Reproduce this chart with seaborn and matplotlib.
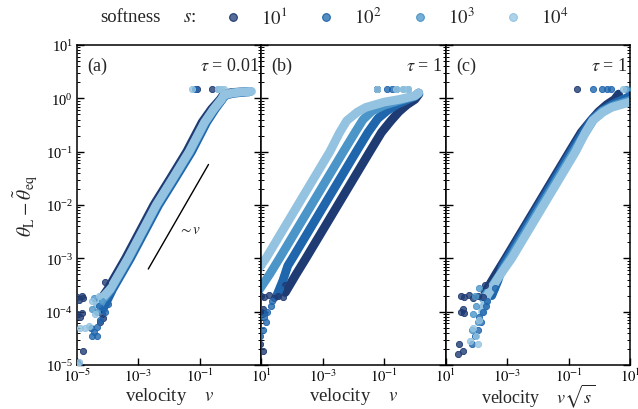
import numpy as np
import pandas as pd
import matplotlib
matplotlib.use("Agg")
import matplotlib.pyplot as plt
import seaborn as sns
from matplotlib.ticker import FixedLocator, NullLocator, LogLocator, NullFormatter
from matplotlib.lines import Line2D
from matplotlib.colors import to_rgba

# ---------------- data (log10 values) ----------------
softness = [1e1, 1e2, 1e3, 1e4]
softness_labels = [r"$10^1$", r"$10^2$", r"$10^3$", r"$10^4$"]
palette = ["#1f3b73", "#1f66ad", "#4b95c9", "#93c3e1"]

# tau = 0.01: main branch of each run
a_band_v_s1 = [-4.20, -4.00, -3.42, -2.96, -2.50, -1.96, -1.43, -0.93, -0.62, -0.34, -0.22, 0.05, 0.35, 0.55]
a_band_t_s1 = [-3.75, -3.58, -3.00, -2.50, -2.00, -1.50, -1.00, -0.45, -0.20, -0.02, 0.08, 0.11, 0.12, 0.13]
a_band_v_s2 = [-4.15, -3.84, -3.26, -2.80, -2.34, -1.80, -1.27, -0.78, -0.50, -0.27, -0.20, 0.05, 0.35, 0.60]
a_band_t_s2 = [-3.95, -3.58, -3.00, -2.50, -2.00, -1.50, -1.00, -0.45, -0.20, -0.02, 0.05, 0.09, 0.11, 0.12]
a_band_v_s3 = [-4.25, -3.90, -3.32, -2.86, -2.40, -1.86, -1.33, -0.83, -0.54, -0.29, -0.21, 0.05, 0.35, 0.65]
a_band_t_s3 = [-3.85, -3.58, -3.00, -2.50, -2.00, -1.50, -1.00, -0.45, -0.20, -0.02, 0.06, 0.10, 0.12, 0.13]
a_band_v_s4 = [-4.35, -3.92, -3.34, -2.88, -2.42, -1.88, -1.35, -0.85, -0.55, -0.30, -0.22, 0.05, 0.35, 0.68]
a_band_t_s4 = [-3.85, -3.58, -3.00, -2.50, -2.00, -1.50, -1.00, -0.45, -0.20, -0.02, 0.06, 0.10, 0.12, 0.13]

# tau = 0.01: isolated samples (slow-creep noise and detached plateau points)
a_pts_v_s1 = [-5.00, -4.95, -4.85, -4.80, -5.00, -4.90, -4.85, -4.80, -5.00, -4.95, -4.20, -4.15, -4.25, -4.09, -1.10, -0.61]
a_pts_t_s1 = [-3.72, -3.78, -3.70, -3.75, -4.05, -4.10, -4.02, -4.74, -4.95, -5.00, -4.05, -4.12, -4.20, -3.45, 0.17, 0.17]
a_pts_v_s2 = [-4.55, -4.45, -4.35, -4.50, -4.35, -4.25, -4.10, -4.30, -4.00, -1.15]
a_pts_t_s2 = [-4.30, -4.38, -4.45, -4.45, -4.28, -4.15, -4.00, -3.90, -3.85, 0.17]
a_pts_v_s3 = [-4.50, -4.35, -4.20, -4.45, -0.40]
a_pts_t_s3 = [-3.95, -4.00, -3.80, -3.75, 0.17]
a_pts_v_s4 = [-4.90, -4.75, -4.60, -4.40, -4.50, -4.30, -4.95, -5.00, -1.26, -0.40, -0.30, -0.20]
a_pts_t_s4 = [-4.30, -4.30, -4.27, -4.05, -3.80, -3.70, -4.95, -5.00, 0.17, 0.17, 0.17, 0.17]

# tau = 1: main branch of each run (velocity v)
b_band_v_s1 = [-4.22, -3.87, -3.55, -3.03, -2.51, -1.99, -1.47, -1.09, -0.78, -0.52, -0.26, 0.00, 0.13]
b_band_t_s1 = [-3.64, -3.30, -3.00, -2.50, -2.00, -1.50, -1.00, -0.64, -0.42, -0.25, -0.12, -0.02, 0.08]
b_band_v_s2 = [-4.50, -4.30, -4.14, -3.99, -3.47, -2.95, -2.43, -1.91, -1.53, -1.21, -0.90, -0.60, -0.30, 0.00, 0.12]
b_band_t_s2 = [-3.70, -3.42, -3.14, -3.00, -2.50, -2.00, -1.50, -1.00, -0.64, -0.38, -0.23, -0.12, -0.04, 0.04, 0.10]
b_band_v_s3 = [-5.28, -5.08, -4.73, -4.41, -3.89, -3.37, -2.85, -2.33, -1.95, -1.69, -1.40, -1.00, -0.50, 0.00, 0.12]
b_band_t_s3 = [-3.75, -3.60, -3.30, -3.00, -2.50, -2.00, -1.50, -1.00, -0.64, -0.40, -0.24, -0.13, -0.04, 0.04, 0.10]
b_band_v_s4 = [-5.80, -5.65, -5.25, -4.85, -4.33, -3.81, -3.29, -2.77, -2.45, -2.22, -1.88, -1.60, -1.00, -0.50, 0.00, 0.12]
b_band_t_s4 = [-4.00, -3.70, -3.33, -3.00, -2.50, -2.00, -1.50, -1.00, -0.64, -0.42, -0.26, -0.17, -0.07, -0.02, 0.05, 0.10]

# tau = 1: isolated samples
b_pts_v_s1 = [-4.30, -4.45, -4.60, -4.75, -4.90, -5.00, -4.22, -5.00, -4.90, -4.95, -5.05, -4.93, -5.10, -1.22]
b_pts_t_s1 = [-3.72, -3.70, -3.74, -3.68, -3.72, -3.70, -3.50, -4.00, -4.02, -3.95, -4.60, -4.74, -4.80, 0.17]
b_pts_v_s2 = [-4.65, -4.70, -4.80, -4.85, -4.95, -4.90, -5.05, -5.15, -4.40, -1.22, -0.90, -0.75, -0.63]
b_pts_t_s2 = [-3.80, -3.90, -4.00, -4.20, -4.35, -4.10, -4.45, -4.60, -3.55, 0.17, 0.17, 0.17, 0.17]
b_pts_v_s3 = [-5.50, -5.60, -5.45, -5.65, -5.55, -5.40, -0.63, -0.40, -0.24]
b_pts_t_s3 = [-3.90, -4.05, -4.20, -4.35, -3.70, -3.55, 0.17, 0.17, 0.17]
b_pts_v_s4 = [-6.10, -6.00, -5.95, -6.20, -5.90, -1.22, -0.63, -0.40, -0.24]
b_pts_t_s4 = [-4.30, -4.45, -4.60, -4.55, -4.15, 0.17, 0.17, 0.17, 0.17]

# reference slope ~ v
guide_logv = [-2.68, -0.72]
guide_logt = [-3.20, -1.24]

a_bands = [(a_band_v_s1, a_band_t_s1), (a_band_v_s2, a_band_t_s2),
           (a_band_v_s3, a_band_t_s3), (a_band_v_s4, a_band_t_s4)]
a_points = [(a_pts_v_s1, a_pts_t_s1), (a_pts_v_s2, a_pts_t_s2),
            (a_pts_v_s3, a_pts_t_s3), (a_pts_v_s4, a_pts_t_s4)]
b_bands = [(b_band_v_s1, b_band_t_s1), (b_band_v_s2, b_band_t_s2),
           (b_band_v_s3, b_band_t_s3), (b_band_v_s4, b_band_t_s4)]
b_points = [(b_pts_v_s1, b_pts_t_s1), (b_pts_v_s2, b_pts_t_s2),
            (b_pts_v_s3, b_pts_t_s3), (b_pts_v_s4, b_pts_t_s4)]

# ---------------- style ----------------
sns.set_style("ticks")
plt.rcParams["font.family"] = ["Liberation Serif", "DejaVu Serif"]
plt.rcParams["mathtext.fontset"] = "stix"
plt.rcParams["axes.linewidth"] = 1.1

fig, axes = plt.subplots(1, 3, figsize=(6.38, 4.10), dpi=100, sharey=True,
                         gridspec_kw={"wspace": 0})
fig.subplots_adjust(left=77 / 638, right=630 / 638, top=1 - 46 / 410, bottom=1 - 366 / 410)

BAND_LW = 6.3
PT_SIZE = 20


def draw(ax, bands, points, xshift):
    for (lv, lt), (pv, pt), s, col in zip(bands, points, softness, palette):
        k = xshift(s)
        bx = 10 ** (np.asarray(lv) + k)
        by = 10 ** np.asarray(lt)
        sns.lineplot(x=bx, y=by, ax=ax, color=col, lw=BAND_LW, sort=False,
                     estimator=None, legend=False,
                     solid_capstyle="round", solid_joinstyle="round")
        px = 10 ** (np.asarray(pv) + k)
        py = 10 ** np.asarray(pt)
        sns.scatterplot(x=px, y=py, ax=ax, s=PT_SIZE, color=to_rgba(col, 0.8),
                        edgecolor=col, linewidth=0.6, legend=False, zorder=3)


for ax in axes:
    ax.set_xscale("log")
    ax.set_yscale("log")

draw(axes[0], a_bands, a_points, lambda s: 0.0)
draw(axes[1], b_bands, b_points, lambda s: 0.0)
draw(axes[2], b_bands, b_points, lambda s: 0.5 * np.log10(s))

sns.lineplot(x=10 ** np.asarray(guide_logv), y=10 ** np.asarray(guide_logt),
             ax=axes[0], color="black", lw=1.0, legend=False)
axes[0].text(10 ** -1.72, 10 ** -2.45, r"$\sim v$", fontsize=11, ha="left", va="center")

xt = [1e-5, 1e-3, 1e-1, 1e1]
for i, ax in enumerate(axes):
    ax.set_xlim(1e-5, 1e1)
    ax.set_ylim(1e-5, 1e1)
    ax.xaxis.set_major_locator(FixedLocator(xt))
    ax.xaxis.set_minor_locator(NullLocator())
    labels = [r"$10^{-5}$", r"$10^{-3}$", r"$10^{-1}$", r"$10^{1}$"]
    if i > 0:
        labels[0] = ""
    ax.set_xticklabels(labels)
    ax.yaxis.set_major_locator(LogLocator(base=10, numticks=20))
    ax.yaxis.set_minor_locator(LogLocator(base=10, subs=np.arange(2, 10), numticks=20))
    ax.yaxis.set_minor_formatter(NullFormatter())
    ax.tick_params(axis="both", which="both", direction="in", labelsize=10.5,
                   left=True, right=True, top=False, bottom=True, colors="black")
    ax.tick_params(axis="y", which="major", length=5, width=1.0, pad=3)
    ax.tick_params(axis="x", which="major", length=5, width=1.0, pad=1.5)
    ax.tick_params(axis="y", which="minor", length=2.5, width=0.7)
    for sp in ax.spines.values():
        sp.set_color("black")
        sp.set_visible(True)

axes[0].set_ylabel(r"$\theta_{\rm L} - \tilde{\theta}_{\rm eq}$", fontsize=14, labelpad=4)
axes[0].set_xlabel(r"velocity    $v$", fontsize=13.5)
axes[1].set_xlabel(r"velocity    $v$", fontsize=13.5)
axes[2].set_xlabel(r"velocity    $v\sqrt{s}$", fontsize=13)
for ax in axes:
    ax.xaxis.set_label_coords(0.5, -(401 - 366) / 320)
    ax.xaxis.label.set_va("baseline")
axes[2].xaxis.set_label_coords(0.5, -(403 - 366) / 320)

for ax, tag, tau in zip(axes, ["(a)", "(b)", "(c)"], ["0.01", "1", "1"]):
    ax.text(0.055, 0.935, tag, transform=ax.transAxes, ha="left", va="center", fontsize=13)
    ax.text(0.985, 0.935, r"$\tau$ = " + tau, transform=ax.transAxes, ha="right",
            va="center", fontsize=13)

handles = [Line2D([], [], ls="none", marker="o", markersize=5.5,
                  markerfacecolor=to_rgba(c, 0.75), markeredgecolor=c, markeredgewidth=0.8)
           for c in palette]
fig.text(100 / 638, 1 - 18 / 410, "softness", fontsize=13.5, ha="left", va="center")
fig.text(183 / 638, 1 - 18 / 410, r"$s$:", fontsize=13.5, ha="left", va="center")
fig.legend(handles, softness_labels, loc="center left", ncol=4, frameon=False,
           bbox_to_anchor=(205 / 638, 1 - 18 / 410), fontsize=13.5,
           handlelength=1.2, handletextpad=0.9, columnspacing=1.45)

fig.savefig("out.png", dpi=100)
